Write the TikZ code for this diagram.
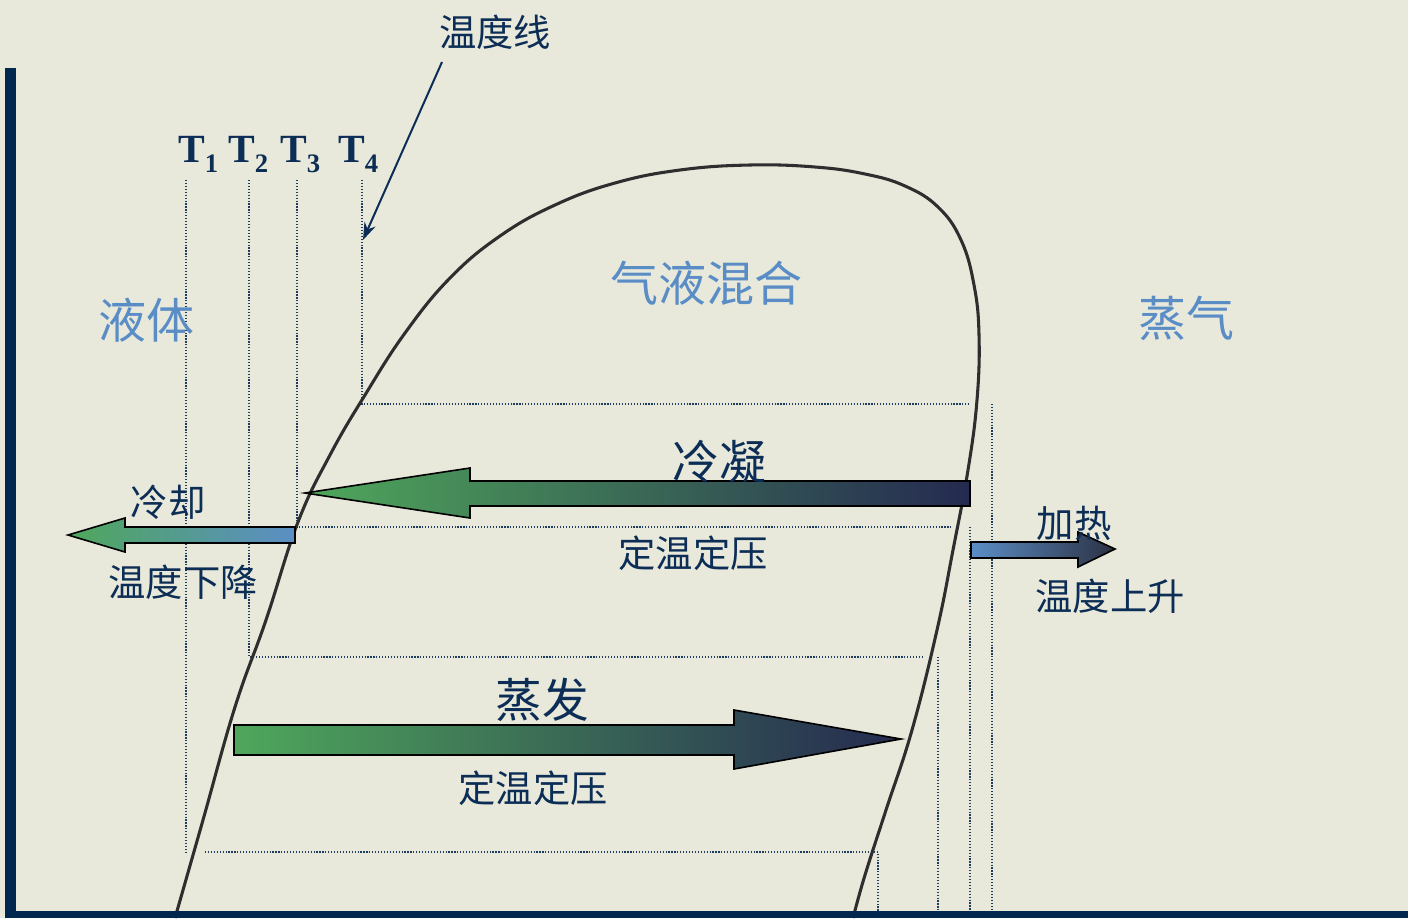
\documentclass[tikz,border=0pt]{standalone}
\usepackage{fontspec}
\usetikzlibrary{arrows.meta}
\newfontfamily\cjk{Noto Sans CJK SC}
\newfontfamily\tms{Liberation Serif}
\definecolor{bgcol}{HTML}{E8E9DB}
\definecolor{axiscol}{HTML}{00284F}
\definecolor{navytext}{HTML}{0C2D55}
\definecolor{phaseblue}{HTML}{5A8DC6}
\definecolor{dotcol}{HTML}{1E3C5E}
\definecolor{curvecol}{HTML}{2E2E2E}
\definecolor{agreen}{HTML}{4FA75B}
\definecolor{anavy}{HTML}{252A50}
\definecolor{ablue}{HTML}{5B8EC6}
\definecolor{adark}{HTML}{2B3042}
\newcommand\tsub[1]{\raisebox{-8pt}{\fontsize{20}{20}\selectfont #1}}
\begin{document}
\begin{tikzpicture}[x=0.75pt,y=-0.75pt,
  dotln/.style={draw=dotcol, line width=0.9pt, dash pattern=on 0.9pt off 1.3pt},
  fatarr/.style={draw=black, line width=1.2pt, line join=miter},
  lbl/.style={inner sep=0pt, text=navytext, font=\cjk\fontsize{28}{30}\selectfont},
  biglbl/.style={inner sep=0pt, text=navytext, font=\cjk\fontsize{35}{38}\selectfont},
  phaselbl/.style={inner sep=0pt, text=phaseblue, font=\cjk\fontsize{36}{38}\selectfont},
  tlbl/.style={inner sep=0pt, anchor=base west, text=navytext, font=\tms\bfseries\fontsize{30}{32}\selectfont},
  domeln/.style={draw=curvecol, line width=2.3pt},
  axisbar/.style={fill=axiscol, draw=none},
  pointer/.style={draw=navytext, line width=1.5pt, -{Stealth[length=13pt,width=9pt]}}
]
\useasboundingbox (0,0) rectangle (1408,918);
\fill[bgcol] (0,0) rectangle (1408,918);

% dotted temperature lines
\draw[dotln] (186,180) -- (186,852);
\draw[dotln] (205,852) -- (878,852) -- (878,911);
\draw[dotln] (249,180) -- (249,657) -- (922,657);
\draw[dotln] (938,657) -- (938,911);
\draw[dotln] (297,180) -- (297,527) -- (953,527);
\draw[dotln] (970,527) -- (970,911);
\draw[dotln] (362,180) -- (362,404) -- (970,404);
\draw[dotln] (992,404) -- (992,911);

% saturation dome
\draw[domeln] plot[smooth, tension=0.7] coordinates {
 (175,918) (203,820) (235,707) (266,620) (298,522) (330,455) (365,395)
 (405,333) (450,278) (500,236) (555,205) (615,183) (680,170) (750,165)
 (815,167) (865,174) (905,186) (938,207) (961,240) (974,285) (979,335)
 (977,400) (968,470) (953,550) (937,630) (912,730) (886,810) (865,875) (853,918)};

% axes
\fill[axisbar] (5,68) rectangle (16,918);
\fill[axisbar] (5,911) rectangle (1408,918);

% fat arrows
\shadedraw[fatarr, left color=agreen, right color=anavy]
 (970,481) -- (470,481) -- (470,468) -- (305,493) -- (470,518) -- (470,506) -- (970,506) -- cycle;
\shadedraw[fatarr, left color=agreen, right color=ablue]
 (295,527) -- (125,527) -- (125,518) -- (68,535) -- (125,552) -- (125,543) -- (295,543) -- cycle;
\shadedraw[fatarr, left color=ablue, right color=adark]
 (971,542) -- (1078,542) -- (1078,532) -- (1115,549) -- (1078,567) -- (1078,558) -- (971,558) -- cycle;
\shadedraw[fatarr, left color=agreen, right color=anavy]
 (234,725) -- (734,725) -- (734,710) -- (901,739) -- (734,769) -- (734,755) -- (234,755) -- cycle;

% labels
\node[lbl] (wdx) at (495,32) {温度线};
\node[tlbl] (t1) at (178,162) {T\tsub{1}};
\node[tlbl] (t2) at (228,162) {T\tsub{2}};
\node[tlbl] (t3) at (280,162) {T\tsub{3}};
\node[tlbl] (t4) at (338,162) {T\tsub{4}};
\node[phaselbl] (yt) at (146,320) {液体};
\node[phaselbl] (qyhh) at (706,283) {气液混合};
\node[phaselbl] (zq) at (1186,318) {蒸气};
\node[biglbl] (ln) at (719,462) {冷凝};
\node[lbl] (dw1) at (693,553) {定温定压};
\node[lbl] (lq) at (168,502) {冷却};
\node[lbl] (wdxj) at (183,582) {温度下降};
\node[lbl] (jr) at (1074,523) {加热};
\node[lbl] (wdss) at (1110,596) {温度上升};
\node[biglbl] (zf) at (542,700) {蒸发};
\node[lbl] (dw2) at (533,788) {定温定压};

% pointer to temperature line
\coordinate (ptrS) at (442,62);
\coordinate (ptrE) at (363,240);
\draw[pointer] (ptrS) -- (ptrE);
\end{tikzpicture}
\end{document}
